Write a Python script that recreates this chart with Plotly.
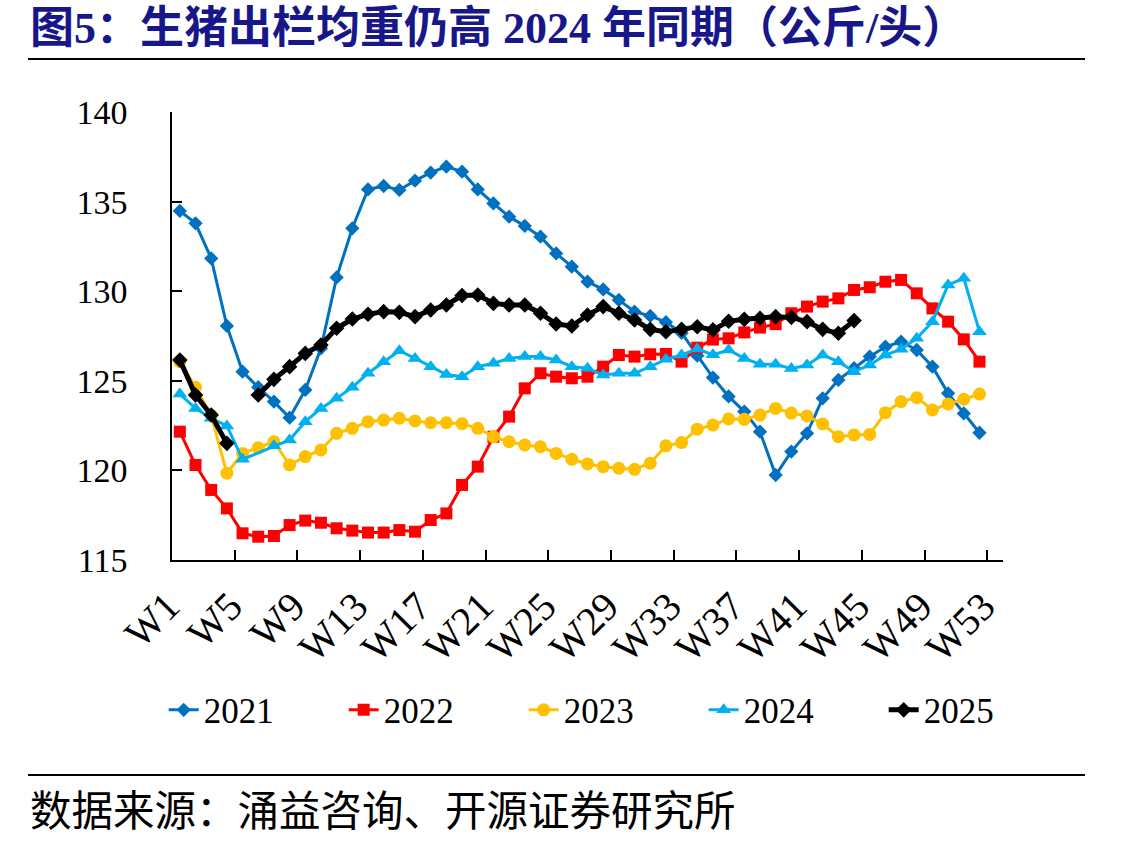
import plotly.graph_objects as go

weeks = [f"W{i}" for i in range(1, 54)]

y2021 = [134.48, 133.79, 131.83, 128.06, 125.51, 124.64, 123.84, 122.94, 124.49, 126.81,
         130.77, 133.51, 135.68, 135.87, 135.65, 136.17, 136.62, 136.95, 136.67, 135.68,
         134.90, 134.16, 133.64, 133.04, 132.11, 131.37, 130.53, 130.10, 129.51, 128.86,
         128.62, 128.27, 127.67, 126.40, 125.18, 124.13, 123.28, 122.16, 119.74, 121.05,
         122.07, 124.02, 125.05, 125.70, 126.35, 126.90, 127.18, 126.72, 125.79, 124.30,
         123.18, 122.10]
y2022 = [122.16, 120.30, 118.91, 117.88, 116.49, 116.30, 116.34, 116.95, 117.20, 117.08,
         116.77, 116.64, 116.53, 116.53, 116.67, 116.58, 117.23, 117.60, 119.19, 120.21,
         121.88, 123.00, 124.58, 125.42, 125.23, 125.14, 125.23, 125.79, 126.44, 126.35,
         126.48, 126.50, 126.07, 126.85, 127.30, 127.37, 127.70, 127.97, 128.16, 128.77,
         129.14, 129.42, 129.60, 130.07, 130.22, 130.53, 130.63, 129.88, 129.04, 128.30,
         127.31, 126.07]
y2023 = [126.07, 124.64, 123.09, 119.84, 120.95, 121.26, 121.60, 120.30, 120.77, 121.14,
         122.07, 122.35, 122.72, 122.81, 122.91, 122.76, 122.66, 122.66, 122.61, 122.35,
         121.88, 121.60, 121.42, 121.32, 120.95, 120.62, 120.36, 120.21, 120.12, 120.06,
         120.40, 121.37, 121.55, 122.30, 122.53, 122.87, 122.85, 123.09, 123.46, 123.20,
         123.04, 122.59, 121.88, 121.98, 122.01, 123.22, 123.84, 124.06, 123.37, 123.71,
         123.97, 124.26]
y2024 = [124.26, 123.46, 122.91, 122.48, 120.62, None, 121.37, 121.70, 122.72, 123.46,
         124.02, 124.64, 125.42, 126.07, 126.68, 126.25, 125.79, 125.35, 125.23, 125.79,
         125.98, 126.25, 126.35, 126.35, 126.16, 125.79, 125.70, 125.32, 125.42, 125.42,
         125.79, 126.20, 126.44, 126.78, 126.45, 126.72, 126.25, 125.93, 125.93, 125.68,
         125.88, 126.44, 126.07, 125.51, 125.88, 126.44, 126.76, 127.37, 128.30, 130.35,
         130.72, 127.74]
y2025 = [126.16, 124.21, 123.09, 121.51, None, 124.21, 125.08, 125.79, 126.53, 127.00,
         127.93, 128.45, 128.71, 128.86, 128.82, 128.58, 128.95, 129.23, 129.76, 129.79,
         129.32, 129.23, 129.23, 128.77, 128.17, 128.06, 128.67, 129.14, 128.77, 128.39,
         127.87, 127.74, 127.87, 128.02, 127.84, 128.32, 128.43, 128.49, 128.58, 128.54,
         128.30, 127.87, 127.65, 128.36]

series = [
    ("2021", y2021, "#0070C0", "diamond", 11, 3, False),
    ("2022", y2022, "#FF0000", "square", 12, 3, False),
    ("2023", y2023, "#FFC000", "circle", 13, 3, False),
    ("2024", y2024, "#00B0F0", "triangle-up", 13, 3, True),
    ("2025", y2025, "#000000", "diamond", 12, 5, False),
]

fig = go.Figure()
for name, vals, color, sym, msize, lw, cg in series:
    fig.add_trace(go.Scatter(
        x=weeks[:len(vals)], y=vals, name=name, mode="lines+markers",
        line=dict(color=color, width=lw),
        marker=dict(symbol=sym, size=msize, color=color, line=dict(width=0)),
        connectgaps=cg,
    ))

serif = "Liberation Serif"
fig.update_layout(
    width=1137, height=846,
    margin=dict(l=172, r=134, t=112, b=286, autoexpand=False),
    paper_bgcolor="white", plot_bgcolor="white",
    font=dict(family=serif, color="black"),
    showlegend=True,
    legend=dict(orientation="h", x=-0.01, xanchor="left",
                y=-0.335, yanchor="middle",
                font=dict(family=serif, size=35, color="black"),
                entrywidth=135, entrywidthmode="pixels",
                traceorder="normal", bgcolor="rgba(0,0,0,0)"),
    xaxis=dict(type="category", categoryorder="array", categoryarray=weeks,
               range=[-0.5, 52.5], tickmode="linear", tick0=0, dtick=4,
               tickson="boundaries", ticks="inside", ticklen=10, tickcolor="black",
               tickwidth=1.5, showline=True, linecolor="black", linewidth=1.5,
               showgrid=False, zeroline=False, tickangle=-45,
               ticklabelshift=-12, ticklabelstandoff=5, automargin=False,
               tickfont=dict(family=serif, size=40, color="black")),
    yaxis=dict(range=[115, 140], dtick=5, tick0=115, ticks="inside", ticklen=10,
               tickcolor="black", tickwidth=1.5, showline=True, linecolor="black",
               linewidth=1.5, showgrid=False, zeroline=False, ticklabelstandoff=36,
               automargin=False,
               tickfont=dict(family=serif, size=34, color="black")),
)

fig.add_annotation(xref="paper", yref="paper", x=-0.1733, y=1.1875, xanchor="left",
                   yanchor="middle", showarrow=False,
                   text="<b>图5：生猪出栏均重仍高 2024 年同期（公斤/头）</b>",
                   font=dict(family="Liberation Serif, Noto Sans CJK SC", size=44,
                             color="#17178A"))
fig.add_annotation(xref="paper", yref="paper", x=-0.1733, y=-0.5536, xanchor="left",
                   yanchor="middle", showarrow=False,
                   text="数据来源：涌益咨询、开源证券研究所",
                   font=dict(family="Noto Sans CJK SC", size=41.5, color="black"))
fig.add_shape(type="line", xref="paper", yref="paper", x0=-0.1733, x1=1.0987,
              y0=1.1183, y1=1.1183, line=dict(color="black", width=2))
fig.add_shape(type="line", xref="paper", yref="paper", x0=-0.1733, x1=1.0987,
              y0=-0.4799, y1=-0.4799, line=dict(color="black", width=2))

fig.write_html("out.html")
